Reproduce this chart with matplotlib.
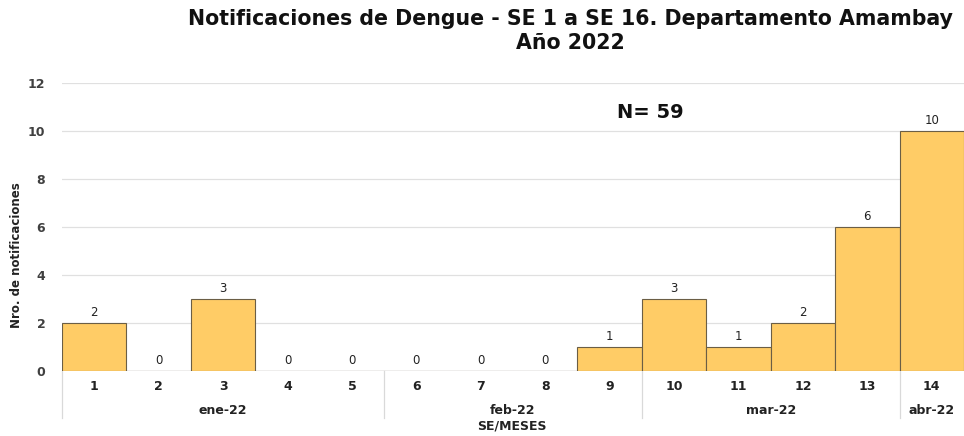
import numpy as np
import matplotlib.pyplot as plt
from matplotlib.transforms import blended_transform_factory

plt.rcParams['font.family'] = ['DejaVu Sans']

semanas = ['1', '2', '3', '4', '5', '6', '7', '8', '9', '10', '11', '12', '13', '14']
casos = [2, 0, 3, 0, 0, 0, 0, 0, 1, 3, 1, 2, 6, 10]
meses = ['ene-22', 'feb-22', 'mar-22', 'abr-22']
semanas_por_mes = [5, 4, 4, 1]

fig = plt.figure(figsize=(9.64, 4.36), dpi=100)
ax = fig.add_axes([62 / 964, 1 - 371 / 436, 1 - 62 / 964, (371 - 83) / 436])

x = np.arange(len(semanas))
ax.bar(x, casos, width=1.0, color='#FFCC66', edgecolor='#6b5e45', linewidth=0.8, zorder=3)
for xi, v in zip(x, casos):
    ax.text(xi, v + 0.15, str(v), ha='center', va='bottom', fontsize=8.5, color='#222222', zorder=4)

ax.set_xlim(-0.5, len(semanas) - 0.5)
ax.set_ylim(0, 12)
ax.set_yticks(range(0, 13, 2))
ax.grid(axis='y', color='#e0e0e0', linewidth=0.9, zorder=0)
ax.tick_params(axis='y', length=0, pad=12, labelsize=9, labelcolor='#404040')
for lab in ax.get_yticklabels():
    lab.set_fontweight('bold')
ax.set_xticks([])
for s in ax.spines.values():
    s.set_visible(False)
ax.axhline(0, color='#d9d9d9', linewidth=0.9, zorder=2)

# eje de categorías con dos niveles
tr = blended_transform_factory(ax.transData, ax.transAxes)
eje_h = (371 - 83) / 436 * 4.36 * 100  # alto del eje en px
for xi, s in zip(x, semanas):
    ax.text(xi, -15 / eje_h, s, transform=tr, ha='center', va='center',
            fontsize=9, fontweight='bold', color='#222222')
inicio = -0.5
bordes = [inicio]
for m, n in zip(meses, semanas_por_mes):
    fin = inicio + n
    ax.text((inicio + fin) / 2, -39 / eje_h, m, transform=tr, ha='center', va='center',
            fontsize=9, fontweight='bold', color='#222222')
    bordes.append(fin)
    inicio = fin
for b in bordes[:-1]:
    ax.plot([b, b], [0, -47 / eje_h], transform=tr, color='#d9d9d9', linewidth=0.9, clip_on=False)

fig.text(512 / 964, 1 - 426 / 436, 'SE/MESES', ha='center', va='center',
         fontsize=9, fontweight='bold', color='#222222')
fig.text(17 / 964, 1 - 255 / 436, 'Nro. de notificaciones', rotation=90, ha='center', va='center',
         fontsize=8.5, fontweight='bold', color='#222222')
fig.text(570 / 964, 1 - 31 / 436, 'Notificaciones de Dengue - SE 1 a SE 16. Departamento Amambay\nAño 2022',
         ha='center', va='center', fontsize=14.8, fontweight='bold', color='#111111', linespacing=1.3)
fig.text(650 / 964, 1 - 113 / 436, 'N= 59', ha='center', va='center',
         fontsize=14, fontweight='bold', color='#111111')

fig.savefig('out.png', dpi=100)
